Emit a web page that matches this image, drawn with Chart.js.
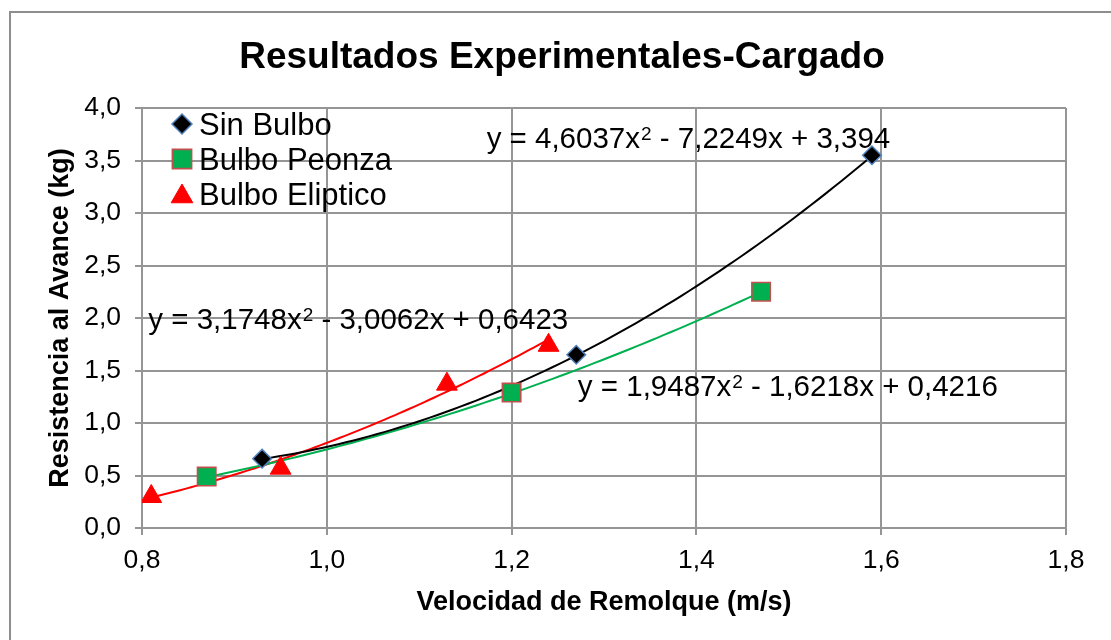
<!DOCTYPE html>
<html>
<head>
<meta charset="utf-8">
<script src="https://cdn.jsdelivr.net/npm/chart.js@4.4.1/dist/chart.umd.min.js"></script>
<style>
  html, body { margin: 0; padding: 0; background: #ffffff; }
  #wrap { width: 1111px; height: 640px; position: relative; }
</style>
</head>
<body>
<div id="wrap"><canvas id="c" width="1111" height="640"></canvas></div>
<script>
// Measured points
const seriesNames = ['Sin Bulbo', 'Bulbo Peonza', 'Bulbo Eliptico'];
const sinBulboX = [0.93, 1.27, 1.59];
const sinBulboY = [0.66, 1.65, 3.55];
const peonzaX = [0.87, 1.20, 1.47];
const peonzaY = [0.49, 1.29, 2.25];
const elipticoX = [0.81, 0.95, 1.13, 1.24];
const elipticoY = [0.30, 0.57, 1.37, 1.74];

// Quadratic trendlines, [a, b, c] for y = a*x^2 + b*x + c
const sinBulboFit = [4.6037, -7.2249, 3.394];
const peonzaFit = [1.9487, -1.6218, 0.4216];
const elipticoFit = [3.1748, -3.0062, 0.6423];

// Axis ticks
const xTicks = [0.8, 1.0, 1.2, 1.4, 1.6, 1.8];
const yTicks = [0, 0.5, 1.0, 1.5, 2.0, 2.5, 3.0, 3.5, 4.0];

const FONT = "'Liberation Sans', Arial, sans-serif";
const GRID = '#959595';

const toPoints = (xs, ys) => xs.map((x, i) => ({ x: x, y: ys[i] }));
const comma = v => String(v).replace('.', ',');
const fmt1 = v => Number(v).toFixed(1).replace('.', ',');

// Sample a fitted polynomial across the x range of its series
function fitCurve(coef, xs) {
  const lo = Math.min(...xs), hi = Math.max(...xs), n = 80, pts = [];
  for (let i = 0; i <= n; i++) {
    const x = lo + (hi - lo) * i / n;
    pts.push({ x: x, y: coef[0] * x * x + coef[1] * x + coef[2] });
  }
  return pts;
}

// Equation text split around the superscript exponent
function equationParts(coef) {
  const sgn = v => (v < 0 ? '-' : '+');
  return [
    'y = ' + comma(coef[0]) + 'x',
    '2',
    ' ' + sgn(coef[1]) + ' ' + comma(Math.abs(coef[1])) + 'x ' + sgn(coef[2]) + ' ' + comma(Math.abs(coef[2]))
  ];
}

const markerSets = [
  { label: seriesNames[0], data: toPoints(sinBulboX, sinBulboY), pointStyle: 'rectRot', pointRadius: 9.3,
    backgroundColor: '#000000', borderColor: '#4f81bd', pointBorderWidth: 1.5, legendRadius: 10 },
  { label: seriesNames[1], data: toPoints(peonzaX, peonzaY), pointStyle: 'rect', pointRadius: 13,
    backgroundColor: '#00b050', borderColor: '#c0504d', pointBorderWidth: 1.6, legendRadius: 13.6 },
  { label: seriesNames[2], data: toPoints(elipticoX, elipticoY), pointStyle: 'triangle', pointRadius: 12,
    backgroundColor: '#ff0000', borderColor: '#ff0000', pointBorderWidth: 1, legendRadius: 12.5 }
];

const trendSets = [
  { data: fitCurve(sinBulboFit, sinBulboX), borderColor: '#000000' },
  { data: fitCurve(peonzaFit, peonzaX), borderColor: '#00b050' },
  { data: fitCurve(elipticoFit, elipticoX), borderColor: '#ff0000' }
];

const datasets = markerSets.map(m => Object.assign({ showLine: false, isMarker: true, pointHoverRadius: m.pointRadius }, m))
  .concat(trendSets.map(t => Object.assign({ showLine: true, pointRadius: 0, borderWidth: 2, fill: false, tension: 0 }, t)));

// Frame, title, legend and equation labels
const decorations = {
  id: 'decorations',
  beforeDraw(chart) {
    const ctx = chart.ctx;
    ctx.save();
    ctx.fillStyle = '#ffffff';
    ctx.fillRect(0, 0, chart.width, chart.height);
    ctx.strokeStyle = '#8e8e8e';
    ctx.lineWidth = 2;
    ctx.beginPath();
    ctx.moveTo(10, chart.height);
    ctx.lineTo(10, 12);
    ctx.lineTo(chart.width, 12);
    ctx.stroke();
    ctx.fillStyle = '#000000';
    ctx.font = 'bold 37px ' + FONT;
    ctx.textAlign = 'center';
    ctx.textBaseline = 'alphabetic';
    ctx.fillText('Resultados Experimentales-Cargado', 562, 68);
    ctx.restore();
  },
  afterDraw(chart, args, opts) {
    const ctx = chart.ctx, area = chart.chartArea;
    const xs = chart.scales.x, ys = chart.scales.y;
    ctx.save();

    // equations of the trendlines
    opts.equations.forEach(eq => {
      const parts = equationParts(eq.coef);
      let x = xs.getPixelForValue(eq.x);
      const y = ys.getPixelForValue(eq.y);
      ctx.fillStyle = '#000000';
      ctx.textAlign = 'left';
      ctx.textBaseline = 'alphabetic';
      ctx.font = '29.5px ' + FONT;
      ctx.fillText(parts[0], x, y);
      x += ctx.measureText(parts[0]).width + 1;
      ctx.font = '19px ' + FONT;
      ctx.fillText(parts[1], x, y - 8);
      x += ctx.measureText(parts[1]).width;
      ctx.font = '29.5px ' + FONT;
      ctx.fillText(parts[2], x, y);
    });

    // legend inside the plot
    const lx = area.left + 40, ly0 = area.top + 16, step = 35;
    chart.data.datasets.forEach((ds, i) => {
      if (!ds.isMarker) return;
      const y = ly0 + step * i;
      ctx.fillStyle = ds.backgroundColor;
      ctx.strokeStyle = ds.borderColor;
      ctx.lineWidth = ds.pointBorderWidth;
      Chart.helpers.drawPoint(ctx, { pointStyle: ds.pointStyle, radius: ds.legendRadius, rotation: 0, borderWidth: ds.pointBorderWidth }, lx, y + (ds.pointStyle === 'triangle' ? 2.5 : 0));
      ctx.fillStyle = '#000000';
      ctx.font = '31px ' + FONT;
      ctx.textAlign = 'left';
      ctx.textBaseline = 'alphabetic';
      ctx.fillText(ds.label, lx + 17, y + 11);
    });
    ctx.restore();
  }
};

new Chart(document.getElementById('c'), {
  type: 'scatter',
  data: { datasets: datasets },
  plugins: [decorations],
  options: {
    responsive: false,
    devicePixelRatio: 1,
    animation: false,
    layout: { padding: { left: 10, right: 45, top: 108, bottom: 0 } },
    plugins: {
      legend: { display: false },
      tooltip: { enabled: false },
      title: { display: false },
      decorations: {
        equations: [
          { coef: sinBulboFit, x: 1.173, y: 3.622 },
          { coef: elipticoFit, x: 0.8068, y: 1.893 },
          { coef: peonzaFit, x: 1.2717, y: 1.253 }
        ]
      }
    },
    scales: {
      x: {
        type: 'linear', min: 0.8, max: 1.8,
        afterBuildTicks: s => { s.ticks = xTicks.map(v => ({ value: v })); },
        afterFit: s => { s.height = 112; },
        grid: { color: GRID, lineWidth: 2, tickLength: 7 },
        border: { color: GRID, width: 2 },
        ticks: { color: '#000000', font: { family: FONT, size: 26.5 }, padding: 10, maxRotation: 0, callback: v => fmt1(v) },
        title: { display: true, text: 'Velocidad de Remolque (m/s)', color: '#000000',
                 font: { family: FONT, size: 27, weight: 'bold' }, padding: { top: 0, bottom: 21 } }
      },
      y: {
        type: 'linear', min: 0, max: 4,
        afterBuildTicks: s => { s.ticks = yTicks.map(v => ({ value: v })); },
        afterFit: s => { s.width = 132; },
        grid: { color: GRID, lineWidth: 2, tickLength: 7 },
        border: { color: GRID, width: 2 },
        ticks: { color: '#000000', font: { family: FONT, size: 26.5 }, padding: 14, callback: v => fmt1(v) },
        title: { display: true, text: 'Resistencia al Avance (kg)', color: '#000000',
                 font: { family: FONT, size: 27, weight: 'bold' }, padding: { top: 34, bottom: 0 } }
      }
    }
  }
});
</script>
</body>
</html>
